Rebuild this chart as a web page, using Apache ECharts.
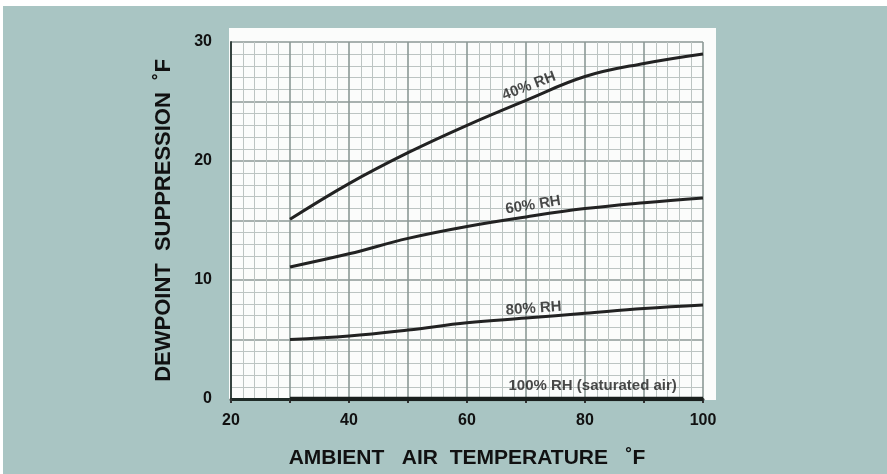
<!DOCTYPE html>
<html><head><meta charset="utf-8">
<script src="https://cdn.jsdelivr.net/npm/echarts@6/dist/echarts.min.js"></script>
<style>html,body{margin:0;padding:0;background:#fff}#c{width:887px;height:474px}</style>
</head><body><div id="c"></div>
<script>
const temps = [30, 40, 50, 60, 70, 80, 90, 100];
const rh40 = [15.1, 18.1, 20.7, 23.0, 25.1, 27.1, 28.2, 29.0];
const rh60 = [11.1, 12.2, 13.5, 14.5, 15.3, 16.0, 16.5, 16.9];
const rh80 = [5.0, 5.3, 5.8, 6.4, 6.8, 7.2, 7.6, 7.9];
const rh100 = [0, 0, 0, 0, 0, 0, 0, 0];
const curveNames = ['40% RH', '60% RH', '80% RH', '100% RH (saturated air)'];
const labelX = [70.5, 71.2, 71.3, 81.3];
const labelY = [26.3, 16.3, 7.6, 1.1];
const labelRot = [21, 9, 4, 0];
const xTicks = [20, 40, 60, 80, 100];
const yTicks = [0, 10, 20, 30];

const chart = echarts.init(document.getElementById('c'));
const toPairs = ys => temps.map((t, i) => [t, ys[i]]);
const lineStyle = {color: '#222', width: 3};
const font = '"Liberation Sans", Arial, sans-serif';

chart.setOption({
  backgroundColor: '#ffffff',
  animation: false,
  graphic: [
    {type: 'rect', z: -10, shape: {x: 3, y: 6, width: 884, height: 468}, style: {fill: '#a9c5c3'}},
    {type: 'rect', z: -9, shape: {x: 229, y: 28, width: 487, height: 372}, style: {fill: '#fbfcfb'}}
  ],
  grid: {left: 231, right: 184, top: 42, bottom: 75, show: false},
  xAxis: {
    type: 'value', min: 20, max: 100, interval: 10,
    name: 'AMBIENT   AIR  TEMPERATURE   ˚F', nameLocation: 'middle', nameGap: 49,
    nameTextStyle: {fontFamily: font, fontWeight: 'bold', fontSize: 21, color: '#111'},
    axisLine: {show: true, lineStyle: {color: '#1e2a26', width: 3}},
    axisTick: {show: true, length: 4, lineStyle: {color: '#333', width: 2}},
    axisLabel: {fontFamily: font, fontWeight: 'bold', fontSize: 16, color: '#111', margin: 14,
      formatter: v => xTicks.includes(v) ? String(v) : ''},
    splitLine: {show: true, lineStyle: {color: '#8c9996', width: 1.6}},
    minorTick: {show: false, splitNumber: 5},
    minorSplitLine: {show: true, lineStyle: {color: '#bcc4c2', width: 1}}
  },
  yAxis: {
    type: 'value', min: 0, max: 30, interval: 5,
    name: 'DEWPOINT  SUPPRESSION  ˚F', nameLocation: 'middle', nameGap: 56,
    nameTextStyle: {fontFamily: font, fontWeight: 'bold', fontSize: 22, color: '#111'},
    axisLine: {show: true, lineStyle: {color: '#34423e', width: 2}},
    axisTick: {show: false},
    axisLabel: {fontFamily: font, fontWeight: 'bold', fontSize: 16, color: '#111', margin: 19,
      formatter: v => yTicks.includes(v) ? String(v) : ''},
    splitLine: {show: true, lineStyle: {color: '#8c9996', width: 1.6}},
    minorTick: {show: false, splitNumber: 5},
    minorSplitLine: {show: true, lineStyle: {color: '#bcc4c2', width: 1}}
  },
  series: [
    {type: 'line', name: curveNames[0], data: toPairs(rh40), smooth: 0.4, symbol: 'none', lineStyle},
    {type: 'line', name: curveNames[1], data: toPairs(rh60), smooth: 0.4, symbol: 'none', lineStyle},
    {type: 'line', name: curveNames[2], data: toPairs(rh80), smooth: 0.4, symbol: 'none', lineStyle},
    {type: 'line', name: curveNames[3], data: toPairs(rh100), symbol: 'none', lineStyle: {color: '#1a1f1d', width: 4.5}, z: 5},
    {type: 'scatter', symbolSize: 0, z: 10,
      data: curveNames.map((n, i) => ({value: [labelX[i], labelY[i]], name: n,
        label: {rotate: labelRot[i]}})),
      label: {show: true, position: 'inside', formatter: p => p.name, fontSize: 15,
        fontFamily: font, fontWeight: 'bold', color: '#1c1c1c'}}
  ]
});
</script></body></html>
